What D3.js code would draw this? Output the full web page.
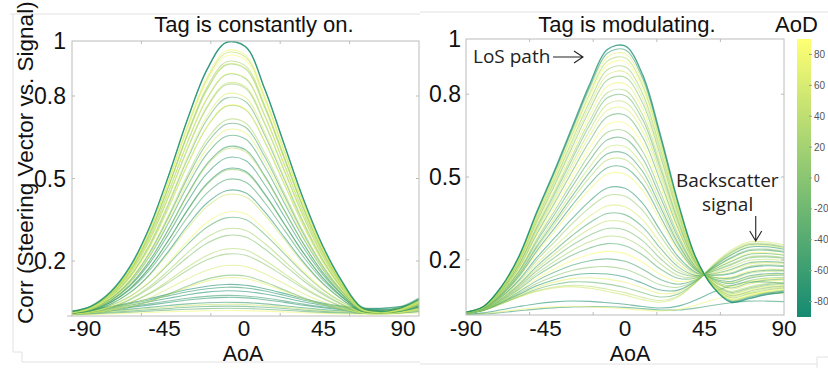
<!DOCTYPE html>
<html>
<head>
<meta charset="utf-8">
<script src="https://cdn.jsdelivr.net/npm/d3@7"></script>
<style>
  body { margin: 0; background: #fff; }
  svg { display: block; }
</style>
</head>
<body>
<svg id="viz" width="828" height="368"></svg>
<script>
// AoA sample grid (deg) shared by all curves
const aoaGrid = [-90, -80, -70, -60, -50, -40, -30, -20, -10, 0, 10, 20, 30, 40, 50, 60, 70, 80, 90];

// left panel: LoS main lobe shape and the broad low lobe (peak = 1)
const mainLobeLeft = [0.012, 0.03, 0.08, 0.17, 0.31, 0.5, 0.71, 0.89, 0.99, 0.975, 0.82, 0.62, 0.42, 0.25, 0.12, 0.025, 0.01, 0.02, 0.05];
const lowLobeLeft = [0.2, 0.28, 0.38, 0.5, 0.63, 0.76, 0.88, 0.96, 1.0, 0.97, 0.88, 0.75, 0.6, 0.47, 0.38, 0.33, 0.33, 0.4, 0.55];

// left panel curves: main lobe height, low lobe height, AoD
const peakLeft = [0.985, 0.973, 0.959, 0.946, 0.93, 0.918, 0.904, 0.892, 0.873, 0.861, 0.835, 0.819, 0.8, 0.775, 0.752,
  0.74, 0.7, 0.679, 0.668, 0.63, 0.6, 0.588, 0.55, 0.52, 0.51, 0.47, 0.44, 0.42, 0.366, 0.33, 0.3, 0.27, 0.226, 0.197,
  0.16, 0.129, 0.11, 0.03, 0.025, 0.02, 0.01, 0.01, 0, 0, 0, 0, 0];
const lowLeft = [0.02, 0.03, 0.015, 0.02, 0.025, 0.015, 0.02, 0.03, 0.015, 0.025, 0.02, 0.03, 0.015, 0.025, 0.02,
  0.03, 0.02, 0.025, 0.015, 0.03, 0.02, 0.025, 0.03, 0.02, 0.025, 0.03, 0.02, 0.025, 0.015, 0.03, 0.02, 0.025, 0.02, 0.03,
  0.025, 0.02, 0.03, 0.085, 0.08, 0.072, 0.065, 0.058, 0.05, 0.043, 0.036, 0.028, 0.02];
const aodLeft = [-85, -60, 75, 40, 85, 20, 60, 0, 80, -20, 50, 10, 65, -30, 88, -10, 30, -40, 70, -50, -55, 45, -65, -70,
  15, -45, -75, 55, 80, -35, 25, -5, 35, 5, 60, -15, 70, -80, -65, -75, -55, -70, -60, 50, -40, -30, 80];

// right panel: LoS main lobe shape and backscatter lobe shape (peak = 1)
const mainLobeRight = [0.01, 0.03, 0.1, 0.21, 0.37, 0.52, 0.68, 0.84, 0.97, 0.985, 0.88, 0.66, 0.41, 0.2, 0.08, 0.02, 0.03, 0.045, 0.055];
const backLobeRight = [0.02, 0.06, 0.14, 0.22, 0.28, 0.31, 0.31, 0.27, 0.21, 0.16, 0.11, 0.1, 0.2, 0.42, 0.68, 0.88, 0.99, 0.99, 0.95];

// right panel curves: LoS height, backscatter height, AoD
const peakRight = [0.985, 0.97, 0.955, 0.94, 0.925, 0.905, 0.885, 0.865, 0.84, 0.815, 0.795, 0.77, 0.745, 0.72, 0.69,
  0.66, 0.63, 0.6, 0.575, 0.55, 0.52, 0.495, 0.44, 0.41, 0.37, 0.34, 0.31, 0.28, 0.25, 0.22, 0.19, 0.16, 0.13, 0.1,
  0.08, 0.06, 0.04, 0.03, 0.02, 0.01, 0.02];
const backRight = [0.03, 0.035, 0.04, 0.04, 0.045, 0.05, 0.055, 0.06, 0.065, 0.07, 0.075, 0.08, 0.09, 0.095, 0.1,
  0.105, 0.115, 0.12, 0.125, 0.135, 0.14, 0.145, 0.16, 0.165, 0.175, 0.18, 0.19, 0.2, 0.205, 0.215, 0.22, 0.23, 0.235,
  0.245, 0.25, 0.255, 0.26, 0.266, 0.12, 0.08, 0.05];
const aodRight = [-85, -65, 70, 30, 85, 10, 55, -5, 75, 20, -20, 40, 65, -30, 88, 0, -40, 50, -55, 35, -60, 80, -70,
  15, 60, -45, 45, -15, 25, -35, 85, -50, 5, -75, 70, -25, 40, 55, -80, 75, -60];

const xTickLabels = [-90, -45, 0, 45, 90];
const yTickLabels = [0.2, 0.5, 0.8, 1];
const aodTicks = [80, 60, 40, 20, 0, -20, -40, -60, -80];

const axisFont = '"Liberation Sans", Arial, sans-serif';
const noteFont = '"Open Sans", "Noto Sans", sans-serif';

const svg = d3.select('#viz');
// MATLAB "summer" colormap
const summer = d3.scaleLinear().domain([-90, 90]).range(['#008066', '#ffff66']);

/**
 * build the curve list of a panel from two lobe shapes
 */
function buildCurves(peaks, second, aods, shapeA, shapeB) {
  return peaks.map((p, i) => ({
    aod: aods[i],
    top: i === 0,
    pts: aoaGrid.map((a, j) => ({ a: a, v: p * shapeA[j] + second[i] * shapeB[j] })),
  }));
}

/**
 * draw one panel
 */
function drawPanel(o) {
  const x = d3.scaleLinear().domain([-90, 90]).range([o.left, o.right]);
  const y = d3.scaleLinear().domain([0, 1]).range([o.bottom, o.top]);
  const g = svg.append('g');

  g.append('clipPath').attr('id', o.id + 'clip')
    .append('rect')
    .attr('x', o.left).attr('y', o.top)
    .attr('width', o.right - o.left).attr('height', o.bottom - o.top);

  const line = d3.line()
    .x(d => x(d.a))
    .y(d => y(d.v))
    .curve(d3.curveCatmullRom.alpha(0.5));

  // first curve (highest) goes on top
  g.append('g').attr('clip-path', `url(#${o.id}clip)`)
    .selectAll('path')
    .data(o.curves.slice().reverse())
    .join('path')
    .attr('d', d => line(d.pts))
    .attr('fill', 'none')
    .attr('stroke', d => summer(d.aod))
    .attr('stroke-opacity', d => (d.top ? 0.7 : 0.55))
    .attr('stroke-width', d => (d.top ? 1.4 : 1.1));

  // frame
  g.append('rect')
    .attr('x', o.left).attr('y', o.top)
    .attr('width', o.right - o.left).attr('height', o.bottom - o.top)
    .attr('fill', 'none').attr('stroke', '#bcbcbc').attr('stroke-width', 1);

  // little inward tick marks
  const xMinor = d3.range(1, 5).map(k => -90 + 36 * k);
  xMinor.forEach(v => {
    g.append('line').attr('x1', x(v)).attr('x2', x(v)).attr('y1', o.bottom).attr('y2', o.bottom - 3)
      .attr('stroke', '#bcbcbc');
    g.append('line').attr('x1', x(v)).attr('x2', x(v)).attr('y1', o.top).attr('y2', o.top + 3)
      .attr('stroke', '#bcbcbc');
  });
  [0.2, 0.5, 0.8].forEach(v => {
    g.append('line').attr('x1', o.left).attr('x2', o.left + 3).attr('y1', y(v)).attr('y2', y(v))
      .attr('stroke', '#bcbcbc');
    g.append('line').attr('x1', o.right).attr('x2', o.right - 3).attr('y1', y(v)).attr('y2', y(v))
      .attr('stroke', '#bcbcbc');
  });
  if (o.zeroTick) {
    g.append('line').attr('x1', o.left - 5).attr('x2', o.left).attr('y1', y(0)).attr('y2', y(0))
      .attr('stroke', '#bcbcbc');
  }

  // tick labels
  const xl = d3.scaleLinear().domain([-90, 90]).range(o.labelRange);
  g.selectAll('text.xt')
    .data(xTickLabels)
    .join('text')
    .attr('class', 'xt')
    .attr('x', d => xl(d))
    .attr('y', 335.5)
    .attr('text-anchor', 'middle')
    .style('font', `22.5px ${axisFont}`)
    .attr('fill', '#111')
    .text(d => d);

  g.selectAll('text.yt')
    .data(yTickLabels)
    .join('text')
    .attr('class', 'yt')
    .attr('x', o.yLabelX)
    .attr('y', d => y(d))
    .attr('dy', '0.36em')
    .attr('text-anchor', 'end')
    .style('font', `23px ${axisFont}`)
    .attr('fill', '#111')
    .text(d => d);

  g.append('text')
    .attr('x', o.titleX).attr('y', 32)
    .attr('text-anchor', 'middle')
    .style('font', `22px ${axisFont}`)
    .attr('fill', '#111')
    .text(o.title);

  g.append('text')
    .attr('x', o.xLabelX).attr('y', 361)
    .attr('text-anchor', 'middle')
    .style('font', `21.5px ${axisFont}`)
    .attr('fill', '#111')
    .text('AoA');

  return { x, y };
}

// faint page edges of the pasted screenshots
const edges = [
  [10, 14, 420, 14], [13, 14, 13, 352], [13, 352, 22, 352], [22, 352, 22, 362], [22, 362, 420, 362],
  [420, 12, 828, 12], [420, 364, 817, 364], [817, 357, 817, 368], [817, 357, 828, 357],
];
svg.append('g').selectAll('line').data(edges).join('line')
  .attr('x1', d => d[0]).attr('y1', d => d[1]).attr('x2', d => d[2]).attr('y2', d => d[3])
  .attr('stroke', '#e2e2e2');

drawPanel({
  id: 'left', left: 72, right: 419, top: 41, bottom: 316,
  curves: buildCurves(peakLeft, lowLeft, aodLeft, mainLobeLeft, lowLobeLeft),
  labelRange: [85, 403], yLabelX: 66, zeroTick: true,
  title: 'Tag is constantly on.', titleX: 254, xLabelX: 243,
});

const right = drawPanel({
  id: 'right', left: 466, right: 784, top: 39, bottom: 315,
  curves: buildCurves(peakRight, backRight, aodRight, mainLobeRight, backLobeRight),
  labelRange: [466, 784], yLabelX: 461, zeroTick: false,
  title: 'Tag is modulating.', titleX: 627, xLabelX: 630,
});

// y axis title
svg.append('text')
  .attr('transform', 'translate(33,324) rotate(-90)')
  .style('font', `22.5px ${axisFont}`)
  .attr('fill', '#111')
  .text('Corr (Steering Vector vs. Signal)');

// annotations
const ann = svg.append('g').attr('fill', 'none').attr('stroke', '#222').attr('stroke-width', 1.1);
svg.append('text').attr('x', 473).attr('y', 63)
  .style('font', `19px ${noteFont}`).attr('fill', '#222').text('LoS path');
const ly = right.y(0.935);
ann.append('path').attr('d', `M553,${ly}H583M574,${ly - 6}L583,${ly}L574,${ly + 6}`);

svg.append('text').attr('x', 676).attr('y', 187)
  .style('font', `19px ${noteFont}`).attr('fill', '#222').text('Backscatter');
svg.append('text').attr('x', 702).attr('y', 211)
  .style('font', `19px ${noteFont}`).attr('fill', '#222').text('signal');
const bx = right.x(74);
const by = right.y(0.268);
ann.append('path').attr('d', `M${bx},216V${by}M${bx - 6},${by - 10}L${bx},${by}L${bx + 6},${by - 10}`);

// colorbar
const cb = d3.scaleLinear().domain([-90, 90]).range([317, 39]);
const grad = svg.append('defs').append('linearGradient')
  .attr('id', 'summerGrad').attr('x1', 0).attr('x2', 0).attr('y1', 1).attr('y2', 0);
d3.range(0, 1.01, 0.25).forEach(t => {
  grad.append('stop').attr('offset', t).attr('stop-color', summer(-90 + 180 * t));
});
svg.append('rect')
  .attr('x', 797).attr('y', cb(90))
  .attr('width', 14).attr('height', cb(-90) - cb(90))
  .attr('fill', 'url(#summerGrad)').attr('opacity', 0.92);
svg.append('g').selectAll('line').data(aodTicks).join('line')
  .attr('x1', 809).attr('x2', 812).attr('y1', d => cb(d)).attr('y2', d => cb(d))
  .attr('stroke', '#999');
svg.append('g').selectAll('text').data(aodTicks).join('text')
  .attr('x', 814).attr('y', d => cb(d)).attr('dy', '0.35em')
  .style('font', `10px ${axisFont}`).attr('fill', '#555')
  .text(d => d);
svg.append('text').attr('x', 775).attr('y', 32)
  .style('font', `22px ${axisFont}`).attr('fill', '#111').text('AoD');
</script>
</body>
</html>
